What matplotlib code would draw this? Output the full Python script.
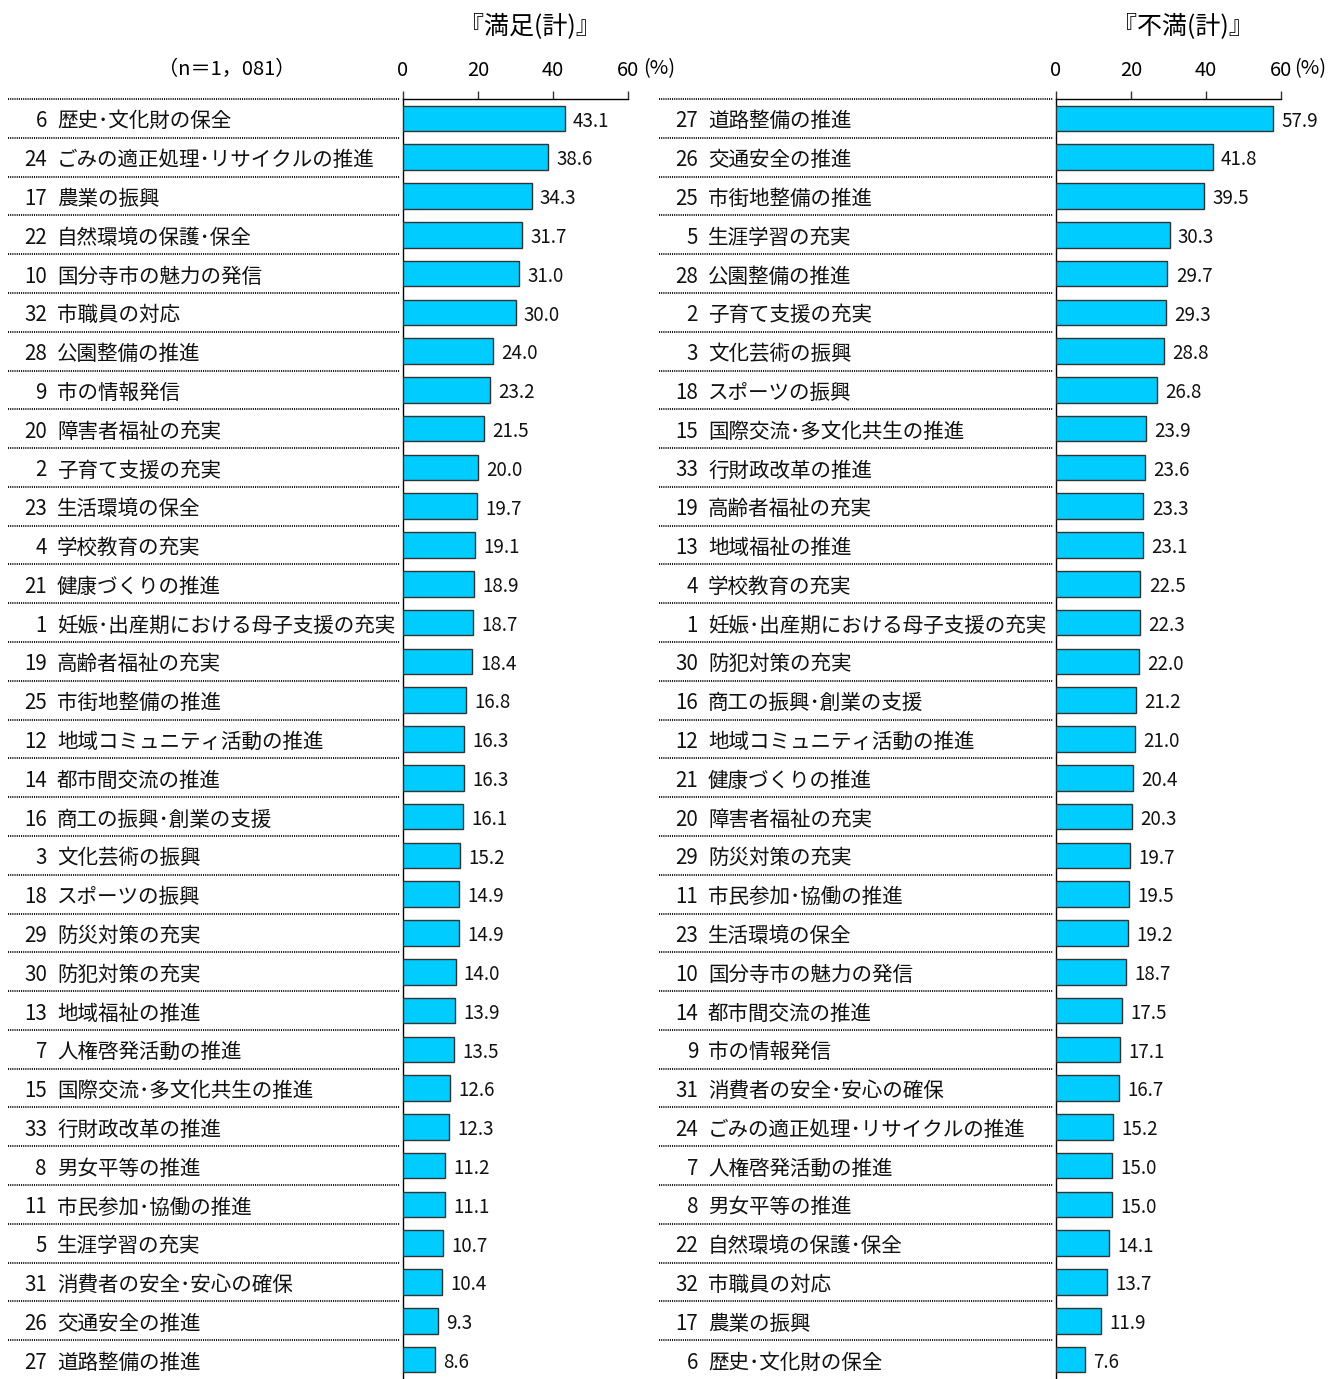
import matplotlib
matplotlib.use("Agg")
import matplotlib.pyplot as plt
from matplotlib.transforms import blended_transform_factory, offset_copy

plt.rcParams['font.family'] = ['Noto Sans CJK JP', 'DejaVu Sans']

# --- data ---
left_nums = [6, 24, 17, 22, 10, 32, 28, 9, 20, 2, 23, 4, 21, 1, 19, 25, 12, 14, 16, 3,
             18, 29, 30, 13, 7, 15, 33, 8, 11, 5, 31, 26, 27]
left_names = ["歴史･文化財の保全", "ごみの適正処理･リサイクルの推進", "農業の振興", "自然環境の保護･保全",
              "国分寺市の魅力の発信", "市職員の対応", "公園整備の推進", "市の情報発信", "障害者福祉の充実",
              "子育て支援の充実", "生活環境の保全", "学校教育の充実", "健康づくりの推進",
              "妊娠･出産期における母子支援の充実", "高齢者福祉の充実", "市街地整備の推進",
              "地域コミュニティ活動の推進", "都市間交流の推進", "商工の振興･創業の支援", "文化芸術の振興",
              "スポーツの振興", "防災対策の充実", "防犯対策の充実", "地域福祉の推進", "人権啓発活動の推進",
              "国際交流･多文化共生の推進", "行財政改革の推進", "男女平等の推進", "市民参加･協働の推進",
              "生涯学習の充実", "消費者の安全･安心の確保", "交通安全の推進", "道路整備の推進"]
left_vals = [43.1, 38.6, 34.3, 31.7, 31.0, 30.0, 24.0, 23.2, 21.5, 20.0, 19.7, 19.1, 18.9,
             18.7, 18.4, 16.8, 16.3, 16.3, 16.1, 15.2, 14.9, 14.9, 14.0, 13.9, 13.5, 12.6,
             12.3, 11.2, 11.1, 10.7, 10.4, 9.3, 8.6]

right_nums = [27, 26, 25, 5, 28, 2, 3, 18, 15, 33, 19, 13, 4, 1, 30, 16, 12, 21, 20, 29,
              11, 23, 10, 14, 9, 31, 24, 7, 8, 22, 32, 17, 6]
right_names = ["道路整備の推進", "交通安全の推進", "市街地整備の推進", "生涯学習の充実", "公園整備の推進",
               "子育て支援の充実", "文化芸術の振興", "スポーツの振興", "国際交流･多文化共生の推進",
               "行財政改革の推進", "高齢者福祉の充実", "地域福祉の推進", "学校教育の充実",
               "妊娠･出産期における母子支援の充実", "防犯対策の充実", "商工の振興･創業の支援",
               "地域コミュニティ活動の推進", "健康づくりの推進", "障害者福祉の充実", "防災対策の充実",
               "市民参加･協働の推進", "生活環境の保全", "国分寺市の魅力の発信", "都市間交流の推進",
               "市の情報発信", "消費者の安全･安心の確保", "ごみの適正処理･リサイクルの推進",
               "人権啓発活動の推進", "男女平等の推進", "自然環境の保護･保全", "市職員の対応",
               "農業の振興", "歴史･文化財の保全"]
right_vals = [57.9, 41.8, 39.5, 30.3, 29.7, 29.3, 28.8, 26.8, 23.9, 23.6, 23.3, 23.1, 22.5,
              22.3, 22.0, 21.2, 21.0, 20.4, 20.3, 19.7, 19.5, 19.2, 18.7, 17.5, 17.1, 16.7,
              15.2, 15.0, 15.0, 14.1, 13.7, 11.9, 7.6]

xticks = [0, 20, 40, 60]

W, H = 1344, 1379
fig = plt.figure(figsize=(W / 100, H / 100), dpi=100, facecolor='white')

BAR_COLOR = '#00CCFF'
TOP_PX = 99


def panel(ax_left_px, names, nums, vals, label_left_px, num_right_px, title, pct_x):
    ax = fig.add_axes([ax_left_px / W, 0, 225 / W, (H - TOP_PX) / H])
    n = len(vals)
    ys = list(range(n))
    ax.barh(ys, vals, height=0.66, color=BAR_COLOR, edgecolor='#333333', linewidth=1.0, zorder=3)
    ax.set_xlim(0, 60)
    ax.set_ylim(n - 0.5, -0.5)
    ax.set_yticks([])
    ax.xaxis.tick_top()
    ax.set_xticks(xticks)
    ax.set_xticklabels([str(t) for t in xticks], fontsize=14.5)
    ax.tick_params(axis='x', direction='out', length=6, width=1, pad=7, color='#333333')
    for s in ['right', 'bottom']:
        ax.spines[s].set_visible(False)
    ax.spines['top'].set_linewidth(1)
    ax.spines['left'].set_linewidth(1)
    ax.patch.set_alpha(0)

    for y, v in zip(ys, vals):
        ax.annotate(f"{v:.1f}", (v, y), xytext=(6, -2), textcoords='offset points',
                    ha='left', va='center', fontsize=13.5, color='#111111')

    tr = blended_transform_factory(fig.transFigure, ax.transData)
    tr_txt = offset_copy(tr, fig=fig, y=-3, units='dots')
    for y, nm, nu in zip(ys, names, nums):
        fig.text(num_right_px / W, y, str(nu), transform=tr_txt, ha='right', va='center',
                 fontsize=14.8, color='#111111')
        fig.text(label_left_px / W, y, nm, transform=tr_txt, ha='left', va='center',
                 fontsize=14.8, color='#111111')
    # dotted row separators in the label area
    for k in range(n):
        fig.add_artist(plt.Line2D([(label_left_px - 49) / W, (ax_left_px - 3) / W], [k - 0.5, k - 0.5],
                                  transform=tr, color='#000000', linewidth=1.3,
                                  linestyle=(0, (0.6, 0.6))))

    fig.text((ax_left_px + 127) / W, 1 - 27 / H, title, ha='center', va='center', fontsize=18)
    fig.text(pct_x / W, 1 - 69 / H, "(%)", ha='left', va='center', fontsize=14.5)
    return ax


panel(403, left_names, left_nums, left_vals, 57, 47, "『満足(計)』", 643)
panel(1056, right_names, right_nums, right_vals, 708, 698, "『不満(計)』", 1294)

fig.text(227 / W, 1 - 69 / H, "（n＝1，081）", ha='center', va='center', fontsize=14.5)

fig.savefig("out.png", dpi=100, facecolor='white')
